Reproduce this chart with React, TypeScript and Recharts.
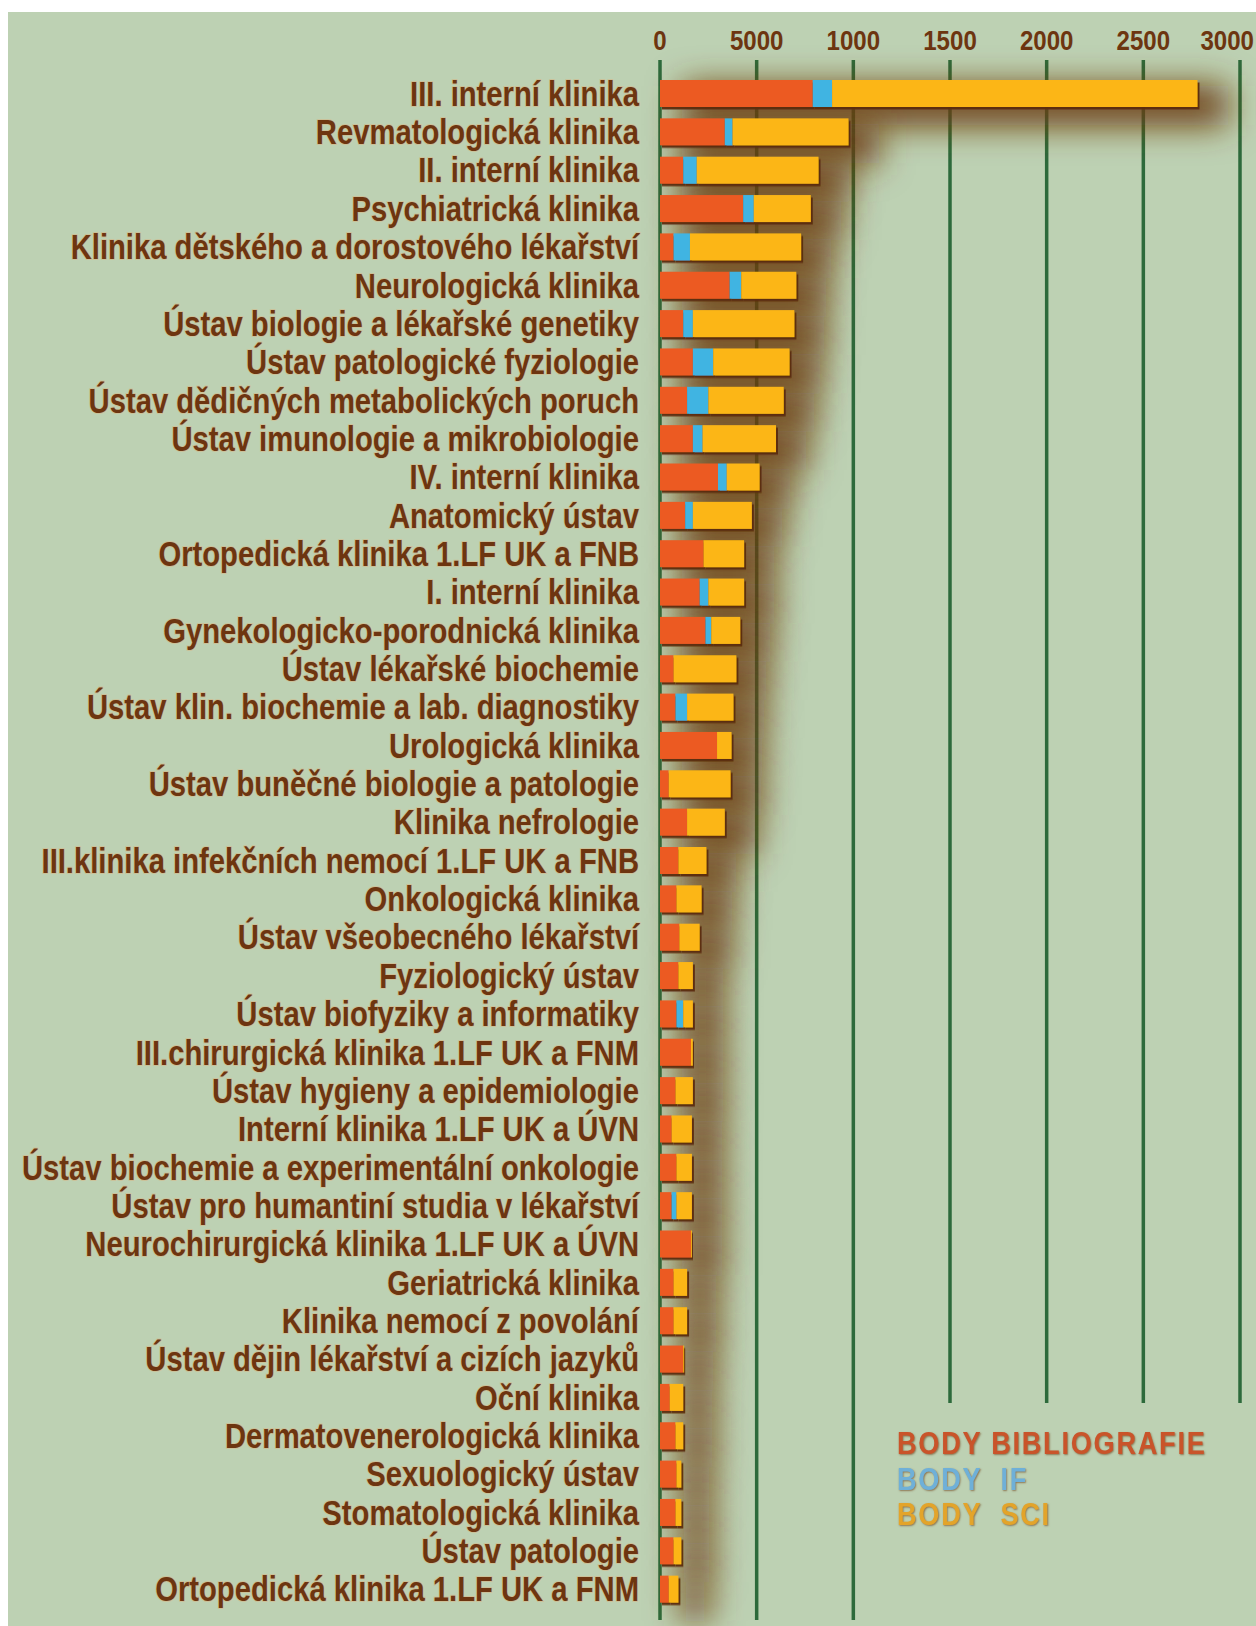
import { BarChart, Bar, XAxis, YAxis, CartesianGrid } from 'recharts';

const NAMES = [
  'III. interní klinika',
  'Revmatologická klinika',
  'II. interní klinika',
  'Psychiatrická klinika',
  'Klinika dětského a dorostového lékařství',
  'Neurologická klinika',
  'Ústav biologie a lékařské genetiky',
  'Ústav patologické fyziologie',
  'Ústav dědičných metabolických poruch',
  'Ústav imunologie a mikrobiologie',
  'IV. interní klinika',
  'Anatomický ústav',
  'Ortopedická klinika 1.LF UK a FNB',
  'I. interní klinika',
  'Gynekologicko-porodnická klinika',
  'Ústav lékařské biochemie',
  'Ústav klin. biochemie a lab. diagnostiky',
  'Urologická klinika',
  'Ústav buněčné biologie a patologie',
  'Klinika nefrologie',
  'III.klinika infekčních nemocí 1.LF UK a FNB',
  'Onkologická klinika',
  'Ústav všeobecného lékařství',
  'Fyziologický ústav',
  'Ústav biofyziky a informatiky',
  'III.chirurgická klinika 1.LF UK a FNM',
  'Ústav hygieny a epidemiologie',
  'Interní klinika 1.LF UK a ÚVN',
  'Ústav biochemie a experimentální onkologie',
  'Ústav pro humantiní studia v lékařství',
  'Neurochirurgická klinika 1.LF UK a ÚVN',
  'Geriatrická klinika',
  'Klinika nemocí z povolání',
  'Ústav dějin lékařství a cizích jazyků',
  'Oční klinika',
  'Dermatovenerologická klinika',
  'Sexuologický ústav',
  'Stomatologická klinika',
  'Ústav patologie',
  'Ortopedická klinika 1.LF UK a FNM',
];

// BODY BIBLIOGRAFIE
const BIB = [790, 335, 120, 430, 70, 360, 120, 170, 140, 170, 300, 130, 225, 205, 235, 70, 80, 295, 45, 140,
  95, 85, 100, 95, 85, 160, 80, 60, 85, 60, 160, 70, 70, 120, 50, 80, 85, 80, 70, 45];
// BODY IF
const IMPACT = [100, 40, 70, 55, 85, 60, 50, 105, 110, 50, 45, 40, 0, 45, 30, 0, 60, 0, 0, 0,
  0, 0, 0, 0, 35, 0, 0, 0, 0, 25, 0, 0, 0, 0, 0, 0, 0, 0, 0, 0];
// BODY SCI
const SCI = [1890, 600, 630, 295, 575, 285, 525, 395, 390, 380, 170, 305, 210, 185, 150, 325, 240, 75, 320, 195,
  145, 130, 105, 75, 50, 10, 90, 105, 80, 80, 5, 70, 70, 5, 70, 40, 25, 30, 40, 50];

const TICKS = [0, 500, 1000, 1500, 2000, 2500, 3000];
const TICK_LABELS = ['0', '5000', '1000', '1500', '2000', '2500', '3000'];

const LEGEND = [
  { text: 'BODY BIBLIOGRAFIE', color: '#c9542a' },
  { text: 'BODY  IF', color: '#6fb0d8' },
  { text: 'BODY  SCI', color: '#e3a42a' },
];

const data = NAMES.map((name, i) => ({
  name,
  bib: BIB[i],
  impact: IMPACT[i],
  sci: SCI[i],
  total: BIB[i] + IMPACT[i] + SCI[i],
}));

const W = 1248;
const H = 1614;
const FONT = '"Liberation Sans", Arial, sans-serif';
const BROWN = '#6d3510';
const SQUEEZE = 0.835;

const CategoryTick = ({ x, y, payload }: any) => (
  <text
    transform={`translate(${x},${y}) scale(${SQUEEZE},1)`}
    x={0}
    y={0}
    dy="0.36em"
    textAnchor="end"
    fontFamily={FONT}
    fontWeight="bold"
    fontSize={35}
    fill={BROWN}
    stroke="#e6a468"
    strokeOpacity={0.35}
    strokeWidth={2}
    paintOrder="stroke"
  >
    {payload.value}
  </text>
);

const ValueTick = ({ x, y, payload, index }: any) => {
  const last = index === TICKS.length - 1;
  return (
    <text
      transform={`translate(${last ? x + 14 : x},${y}) scale(0.86,1)`}
      x={0}
      y={0}
      dy="0.36em"
      textAnchor={last ? 'end' : 'middle'}
      fontFamily={FONT}
      fontWeight="bold"
      fontSize={28}
      fill={BROWN}
    >
      {TICK_LABELS[index] ?? payload.value}
    </text>
  );
};

const gridLine = (props: any) => {
  const { x1, x2, y1, index, key } = props;
  const long = index < 3;
  return (
    <line
      key={key}
      x1={x1}
      x2={x2}
      y1={y1 - 14}
      y2={long ? H - 6 : 1391}
      stroke="#2d6a3b"
      strokeWidth={3.5}
    />
  );
};

const EdgedRect = (p: any) => {
  if (!p.width || p.width < 0.5) return <g />;
  return <rect x={p.x} y={p.y} width={p.width} height={p.height} fill={p.fill} filter="url(#edge)" />;
};

const HazeRect = (p: any) => (
  <rect x={p.x} y={p.y} width={p.width} height={p.height} fill="#6a3a10" filter="url(#haze)" />
);

export default function App() {
  return (
    <div
      style={{
        position: 'fixed',
        left: 8,
        top: 12,
        width: W,
        height: H,
        background: '#bdd1b3',
        overflow: 'hidden',
      }}
    >
      <BarChart
        width={W}
        height={H}
        data={data}
        layout="vertical"
        margin={{ top: 0, right: 16, bottom: 18, left: 0 }}
        barSize={27}
      >
        <defs>
          <filter id="haze" filterUnits="userSpaceOnUse" x={0} y={0} width={W} height={H}>
            <feMorphology in="SourceGraphic" operator="dilate" radius="4 6" result="d" />
            <feGaussianBlur in="d" stdDeviation={17} result="b" />
            <feOffset in="b" dx={26} dy={12} />
          </filter>
          <filter id="edge" x="-50%" y="-50%" width="200%" height="200%">
            <feDropShadow dx={2} dy={2.5} stdDeviation={0.6} floodColor="#5a2c0c" floodOpacity={0.95} />
          </filter>
        </defs>
        <CartesianGrid horizontal={false} vertical={gridLine} />
        <XAxis
          type="number"
          orientation="top"
          domain={[0, 3000]}
          ticks={TICKS}
          height={62}
          axisLine={false}
          tickLine={false}
          tickSize={0}
          tickMargin={34}
          tick={<ValueTick />}
          interval={0}
        />
        <YAxis
          type="category"
          dataKey="name"
          width={652}
          axisLine={false}
          tickLine={false}
          tickSize={0}
          tickMargin={21}
          tick={<CategoryTick />}
          interval={0}
        />
        <YAxis yAxisId="shadow" type="category" dataKey="name" hide />
        <Bar yAxisId="shadow" dataKey="total" fill="#6a3a10" shape={<HazeRect />} isAnimationActive={false} />
        <Bar dataKey="bib" stackId="a" fill="#ec5a22" shape={<EdgedRect />} isAnimationActive={false} />
        <Bar dataKey="impact" stackId="a" fill="#3fb4e2" shape={<EdgedRect />} isAnimationActive={false} />
        <Bar dataKey="sci" stackId="a" fill="#fcb614" shape={<EdgedRect />} isAnimationActive={false} />
      </BarChart>
      <div style={{ position: 'absolute', left: 889, top: 1414 }}>
        {LEGEND.map((l) => (
          <div
            key={l.text}
            style={{
              color: l.color,
              fontFamily: FONT,
              fontWeight: 'bold',
              fontSize: 32,
              letterSpacing: 2,
              lineHeight: '35.5px',
              whiteSpace: 'pre',
              transform: 'scaleX(0.85)',
              transformOrigin: 'left center',
              textShadow: '1px 1px 2px rgba(110,60,20,0.6)',
            }}
          >
            {l.text}
          </div>
        ))}
      </div>
    </div>
  );
}
